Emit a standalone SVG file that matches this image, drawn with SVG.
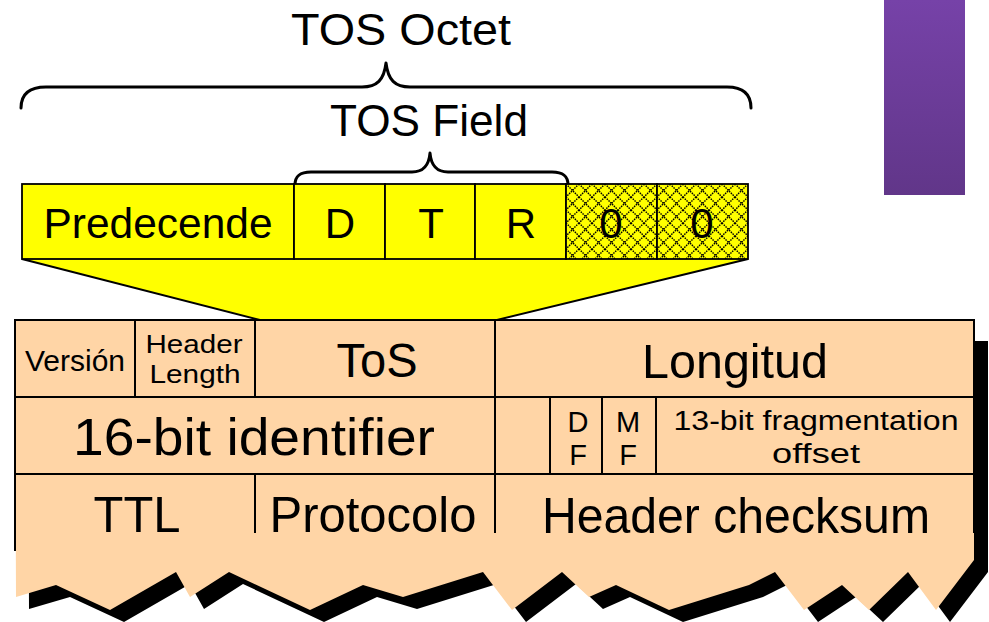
<svg xmlns="http://www.w3.org/2000/svg" width="989" height="622" viewBox="0 0 989 622">
<defs>
<linearGradient id="purp" x1="0" y1="0" x2="0" y2="1">
<stop offset="0" stop-color="#7642a8"/>
<stop offset="1" stop-color="#613689"/>
</linearGradient>
<pattern id="hatch" patternUnits="userSpaceOnUse" width="13" height="13" x="566" y="184">
<rect width="13" height="13" fill="#ffff00"/>
<path d="M0,0 L13,13 M13,0 L0,13" stroke="#000" stroke-width="1.4" stroke-dasharray="1.5 1"/>
</pattern>
<style>
.t{font-family:"Liberation Sans","DejaVu Sans",sans-serif;fill:#000;text-anchor:middle}
.cell{stroke:#000;stroke-width:2}
.y{fill:#ffff00;stroke:#000;stroke-width:1.8}
.brace{fill:none;stroke:#000;stroke-width:3;stroke-linecap:round;stroke-linejoin:round}
.ln{stroke:#000;stroke-width:2;fill:none}
</style>
</defs>
<rect width="989" height="622" fill="#fff"/>
<rect x="884" y="0" width="81" height="195" fill="url(#purp)"/>

<g id="braces">
<path class="brace" d="M21,108 C21,93 30,87 46,87 L362,87 C377,87 384,80 386,63 C388,80 395,87 410,87 L727,87 C742,87 751,93 751,108"/>
<path class="brace" d="M295,185 C295,176 300,172 311,172 L412,172 C424,172 429,165 430,153 C431,165 436,172 448,172 L552,172 C563,172 568,176 568,185"/>
<text class="t" x="401" y="45" font-size="44" textLength="220" lengthAdjust="spacingAndGlyphs">TOS Octet</text>
<text class="t" x="429" y="136" font-size="44" textLength="198" lengthAdjust="spacingAndGlyphs">TOS Field</text>
</g>

<g id="shadow">
<polygon fill="#000" points="28,341 988,341 988,572 950,622 922,584 883,622 856,597 818,622 789,584 763,597 683,622 630,597 603,609 576,584 526,622 497,584 417,609 377,597 324,622 243,584 204,609 190,584 124,622 70,597 29,609"/>
</g>
<g id="paper">
<polygon fill="#ffd5a6" points="15,320 974,320 974,560 936,610 908,572 869,610 842,585 804,610 775,572 749,585 669,610 616,585 589,597 562,572 512,610 483,572 403,597 363,585 310,610 229,572 190,597 176,572 110,610 56,585 16,597"/>
</g>

<g id="zoom-trapezoid">
<polygon fill="#ffff00" points="22,259 748,259 497,320 260,320"/>
<g class="connectors">
<line class="ln" x1="22" y1="259" x2="260" y2="320" stroke-width="1.6"/>
<line class="ln" x1="748" y1="259" x2="497" y2="320" stroke-width="1.6"/>
</g>
</g>

<g id="tos-octet">
<g id="predecende"><rect class="y" x="22" y="184" width="272" height="75"/><text class="t" x="158" y="238" font-size="42" textLength="229" lengthAdjust="spacingAndGlyphs">Predecende</text></g>
<g id="bit-d"><rect class="y" x="294" y="184" width="91" height="75"/><text class="t" x="340" y="238" font-size="42">D</text></g>
<g id="bit-t"><rect class="y" x="385" y="184" width="90" height="75"/><text class="t" x="431" y="238" font-size="42">T</text></g>
<g id="bit-r"><rect class="y" x="475" y="184" width="91" height="75"/><text class="t" x="521" y="238" font-size="42">R</text></g>
<g id="bit-0a"><rect x="566" y="184" width="91" height="75" fill="url(#hatch)" stroke="#000" stroke-width="1.8"/><text class="t" x="611" y="238" font-size="42">0</text></g>
<g id="bit-0b"><rect x="657" y="184" width="91" height="75" fill="url(#hatch)" stroke="#000" stroke-width="1.8"/><text class="t" x="702" y="238" font-size="42">0</text></g>
</g>

<g id="ip-header">
<g id="grid">
<line class="cell" x1="15" y1="320" x2="974" y2="320"/>
<line class="cell" x1="15" y1="397" x2="974" y2="397"/>
<line class="cell" x1="15" y1="474" x2="974" y2="474"/>
<line class="cell" x1="15" y1="319" x2="15" y2="551"/>
<line class="cell" x1="974" y1="319" x2="974" y2="533"/>
<line class="cell" x1="135" y1="320" x2="135" y2="397"/>
<line class="cell" x1="255" y1="320" x2="255" y2="397"/>
<line class="cell" x1="495" y1="320" x2="495" y2="533"/>
<line class="cell" x1="550" y1="397" x2="550" y2="474"/>
<line class="cell" x1="602" y1="397" x2="602" y2="474"/>
<line class="cell" x1="656" y1="397" x2="656" y2="474"/>
<line class="cell" x1="255" y1="474" x2="255" y2="533"/>
</g>
<g id="version"><text class="t" x="75" y="371" font-size="29" textLength="100" lengthAdjust="spacingAndGlyphs">Versión</text></g>
<g id="header-length"><text class="t" x="194" y="353" font-size="25" textLength="97" lengthAdjust="spacingAndGlyphs">Header</text><text class="t" x="195" y="383" font-size="25" textLength="91" lengthAdjust="spacingAndGlyphs">Length</text></g>
<g id="tos"><text class="t" x="377" y="377" font-size="48" textLength="81" lengthAdjust="spacingAndGlyphs">ToS</text></g>
<g id="longitud"><text class="t" x="735" y="378" font-size="49" textLength="186" lengthAdjust="spacingAndGlyphs">Longitud</text></g>
<g id="identifier"><text class="t" x="254" y="455" font-size="52" textLength="362" lengthAdjust="spacingAndGlyphs">16-bit identifier</text></g>
<g id="df"><text class="t" x="578" y="432" font-size="29">D</text><text class="t" x="578" y="465" font-size="29">F</text></g>
<g id="mf"><text class="t" x="628" y="432" font-size="29">M</text><text class="t" x="628" y="465" font-size="29">F</text></g>
<g id="frag-offset"><text class="t" x="816" y="430" font-size="27" textLength="285" lengthAdjust="spacingAndGlyphs">13-bit fragmentation</text><text class="t" x="816" y="463" font-size="27" textLength="88" lengthAdjust="spacingAndGlyphs">offset</text></g>
<g id="ttl"><text class="t" x="137" y="532" font-size="50" textLength="87" lengthAdjust="spacingAndGlyphs">TTL</text></g>
<g id="protocolo"><text class="t" x="373" y="532" font-size="50" textLength="207" lengthAdjust="spacingAndGlyphs">Protocolo</text></g>
<g id="checksum"><text class="t" x="736" y="533" font-size="50" textLength="388" lengthAdjust="spacingAndGlyphs">Header checksum</text></g>
</g>
</svg>
